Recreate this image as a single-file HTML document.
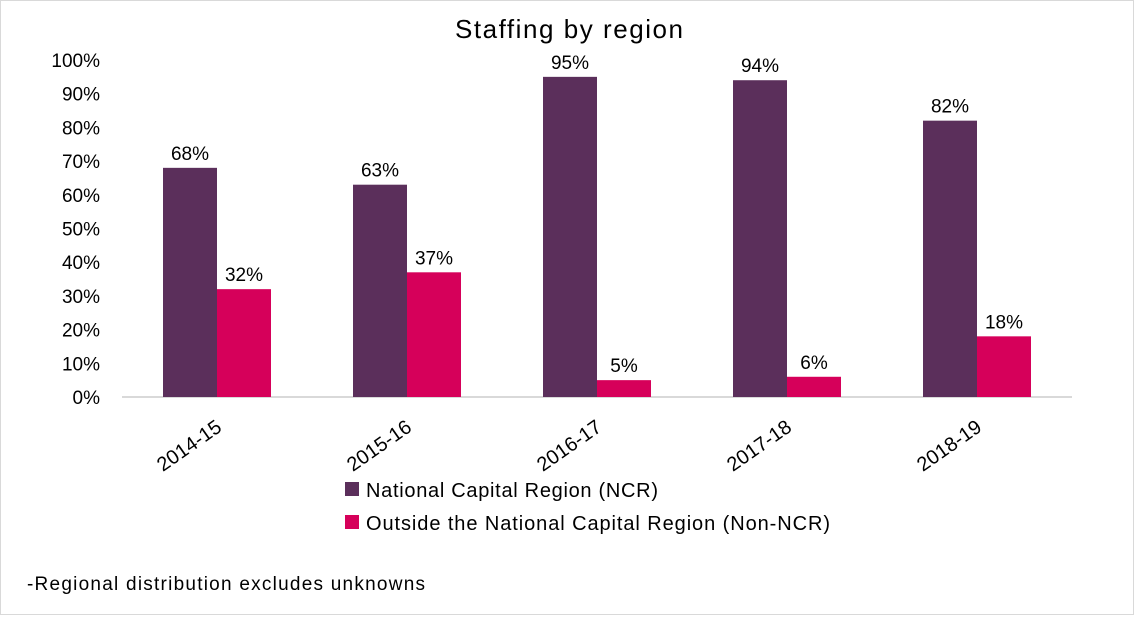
<!DOCTYPE html>
<html><head><meta charset="utf-8"><style>
body{margin:0;background:#fff;}
svg text{font-family:"Liberation Sans",sans-serif;fill:#000;}
</style></head><body>
<svg id="chart" width="1134" height="615" xmlns="http://www.w3.org/2000/svg">
<rect x="0.5" y="0.5" width="1133" height="614" fill="#fff" stroke="#d9d9d9"/>
<text x="569" y="38" font-size="26" text-anchor="middle" textLength="228">Staffing by region</text>
<g id="yticks"></g>
<line x1="122" y1="397" x2="1072" y2="397" stroke="#d9d9d9" stroke-width="2"/>
<g id="bars"></g>
<g id="xlabels"></g>
<rect x="345" y="482" width="14" height="14" fill="#5B2F5B"/>
<text x="366" y="497" font-size="20" textLength="292">National Capital Region (NCR)</text>
<rect x="345" y="515" width="14" height="14" fill="#D6005A"/>
<text x="366" y="530" font-size="20" textLength="464">Outside the National Capital Region (Non-NCR)</text>
<text x="27" y="590" font-size="19" textLength="398">-Regional distribution excludes unknowns</text>
</svg>
<script>
const categories=["2014-15","2015-16","2016-17","2017-18","2018-19"];
const ncrValues=[68,63,95,94,82];
const nonNcrValues=[32,37,5,6,18];
const yTicks=[0,10,20,30,40,50,60,70,80,90,100];
const NS="http://www.w3.org/2000/svg";
const x0=122,x1=1072,yBase=397,yTop=60;
const yScale=v=>yBase-(yBase-yTop)*v/100;
const band=(x1-x0)/categories.length;
const xCenter=i=>x0+band*(i+0.5);
const bw=54;
function mk(tag,attrs,parent){const e=document.createElementNS(NS,tag);for(const k in attrs)e.setAttribute(k,attrs[k]);parent.appendChild(e);return e;}
const yt=document.getElementById('yticks');
yTicks.forEach(t=>{const e=mk('text',{x:100,y:yScale(t)+7,'font-size':19,'text-anchor':'end'},yt);e.textContent=t+'%';

});
const bars=document.getElementById('bars');
const xl=document.getElementById('xlabels');
categories.forEach((c,i)=>{
 const cx=xCenter(i);
 [[ncrValues[i],'#5B2F5B',cx-bw,'ncr'],[nonNcrValues[i],'#D6005A',cx,'non-ncr']].forEach(([v,col,x,s])=>{
  const r=mk('rect',{x:x,y:yScale(v),width:bw,height:yBase-yScale(v),fill:col},bars);
  
  
  const t=mk('text',{x:x+bw/2,y:yScale(v)-8,'font-size':19,'text-anchor':'middle'},bars);t.textContent=v+'%';
  
  
 });
 const lx=cx+6,ly=430;
 const t=mk('text',{x:lx,y:ly,'font-size':20,'text-anchor':'end',transform:`rotate(-35 ${lx} ${ly})`},xl);t.textContent=c;
 
 
});
</script>
</body></html>
